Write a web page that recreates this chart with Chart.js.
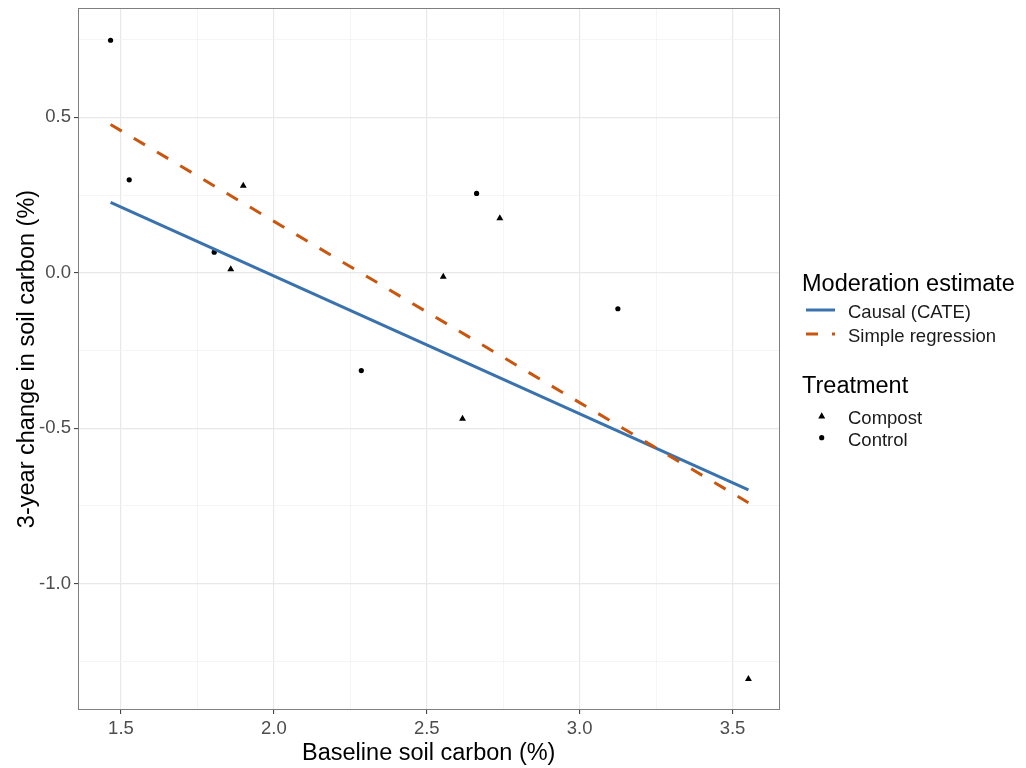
<!DOCTYPE html>
<html>
<head>
<meta charset="utf-8">
<script src="https://cdn.jsdelivr.net/npm/chart.js@4.4.1/dist/chart.umd.min.js"></script>
<style>
  html, body { margin: 0; padding: 0; background: #ffffff; }
  #wrap { position: relative; width: 1026px; height: 768px; font-family: "Liberation Sans", Arial, sans-serif; }
  #c { position: absolute; left: 0; top: 0; }
  .lg { position: absolute; white-space: nowrap; color: #000; line-height: 1; }
  .lg-title { font-size: 23.5px; }
  .lg-item { font-size: 18.5px; color: #1a1a1a; }
  svg.key { position: absolute; left: 800px; top: 295px; }
</style>
</head>
<body>
<div id="wrap">
  <canvas id="c" width="1026" height="768"></canvas>
  <svg class="key" width="50" height="160" viewBox="0 0 50 160">
    <line x1="6" y1="15" x2="35" y2="15" stroke="#3A72AE" stroke-width="3"/>
    <line x1="6" y1="39" x2="35" y2="39" stroke="#C8560E" stroke-width="3" stroke-dasharray="12 14"/>
    <polygon points="21.7,117.3 18.2,123.4 25.2,123.4" fill="#000"/>
    <circle cx="21.7" cy="142.7" r="2.6" fill="#000"/>
  </svg>
  <div class="lg lg-title" style="left:802px; top:271.8px;">Moderation estimate</div>
  <div class="lg lg-item" style="left:848px; top:303.3px;">Causal (CATE)</div>
  <div class="lg lg-item" style="left:848px; top:327px;">Simple regression</div>
  <div class="lg lg-title" style="left:802px; top:374.4px;">Treatment</div>
  <div class="lg lg-item" style="left:848px; top:408.6px;">Compost</div>
  <div class="lg lg-item" style="left:848px; top:431px;">Control</div>
</div>
<script>
// ---- Data ----
const controlX = [1.466, 1.527, 1.805, 2.286, 2.663, 3.125];
const controlY = [0.748, 0.299, 0.066, -0.315, 0.255, -0.116];
const compostX = [1.900, 1.859, 2.554, 2.739, 2.617, 3.552];
const compostY = [0.280, 0.011, -0.013, 0.175, -0.470, -1.307];
const lineX = [1.466, 3.552];
const cateY = [0.226, -0.699];
const regY = [0.477, -0.740];
const xTicks = [1.25, 1.5, 1.75, 2.0, 2.25, 2.5, 2.75, 3.0, 3.25, 3.5];
const yTicks = [-1.25, -1.0, -0.75, -0.5, -0.25, 0.0, 0.25, 0.5, 0.75];
const xLabeled = [1.5, 2.0, 2.5, 3.0, 3.5];
const yLabeled = [-1.0, -0.5, 0.0, 0.5];

const pts = (xs, ys) => xs.map((x, i) => ({ x: x, y: ys[i] }));
const isMajor = (v, list) => list.some(t => Math.abs(t - v) < 1e-9);

const BLUE = '#3A72AE';
const ORANGE = '#C8560E';

const borderPlugin = {
  id: 'panelBorder',
  afterDatasetsDraw(chart) {
    const a = chart.chartArea, ctx = chart.ctx;
    ctx.save();
    ctx.strokeStyle = '#7f7f7f';
    ctx.lineWidth = 1;
    ctx.strokeRect(Math.round(a.left) + 0.5, Math.round(a.top) + 0.5,
                   Math.round(a.right - a.left) - 1, Math.round(a.bottom - a.top) - 1);
    ctx.restore();
  }
};

const gridCfg = (labeled) => ({
  color: ctx => (ctx.tick && isMajor(ctx.tick.value, labeled)) ? '#e8e8e8' : '#f2f2f2',
  lineWidth: ctx => (ctx.tick && isMajor(ctx.tick.value, labeled)) ? 1.2 : 0.8,
  drawTicks: true,
  tickLength: 4,
  tickColor: ctx => (ctx.tick && isMajor(ctx.tick.value, labeled)) ? '#333333' : 'rgba(0,0,0,0)',
  tickWidth: 1
});

const zeroPad = s => { s.paddingTop = 0; s.paddingBottom = 0; s.paddingLeft = 0; s.paddingRight = 0; };

new Chart(document.getElementById('c'), {
  type: 'scatter',
  data: {
    datasets: [
      { label: 'Control', data: pts(controlX, controlY), pointStyle: 'circle', pointRadius: 2.6,
        backgroundColor: '#000', borderColor: '#000', borderWidth: 0, order: 2 },
      { label: 'Compost', data: pts(compostX, compostY), pointStyle: 'triangle', pointRadius: 4,
        backgroundColor: '#000', borderColor: '#000', borderWidth: 0, order: 2 },
      { type: 'line', label: 'Causal (CATE)', data: pts(lineX, cateY), borderColor: BLUE,
        borderWidth: 3, pointRadius: 0, fill: false, order: 1 },
      { type: 'line', label: 'Simple regression', data: pts(lineX, regY), borderColor: ORANGE,
        borderWidth: 3, borderDash: [13, 14], pointRadius: 0, fill: false, order: 0 }
    ]
  },
  options: {
    responsive: false,
    animation: false,
    devicePixelRatio: 1,
    layout: { padding: { top: 8, right: 246.5, left: 0, bottom: 0 } },
    plugins: { legend: { display: false }, tooltip: { enabled: false } },
    scales: {
      x: {
        type: 'linear',
        min: 1.3595, max: 3.6536,
        afterBuildTicks: s => { s.ticks = xTicks.filter(v => v >= s.min && v <= s.max).map(v => ({ value: v })); },
        afterFit: s => { s.height = 58; zeroPad(s); },
        grid: gridCfg(xLabeled),
        border: { display: false },
        ticks: {
          autoSkip: false, maxRotation: 0, padding: 4,
          color: '#4d4d4d', font: { family: 'Liberation Sans', size: 18.5 },
          callback: v => isMajor(v, xLabeled) ? v.toFixed(1) : ''
        },
        title: { display: true, text: 'Baseline soil carbon (%)', color: '#000',
          font: { family: 'Liberation Sans', size: 23.5 }, padding: { top: 0, bottom: 0 } }
      },
      y: {
        type: 'linear',
        min: -1.407, max: 0.8517,
        afterBuildTicks: s => { s.ticks = yTicks.filter(v => v >= s.min && v <= s.max).map(v => ({ value: v })); },
        afterFit: s => { s.width = 78; zeroPad(s); },
        grid: gridCfg(yLabeled),
        border: { display: false },
        ticks: {
          autoSkip: false, padding: 3,
          color: '#4d4d4d', font: { family: 'Liberation Sans', size: 18.5 },
          callback: v => isMajor(v, yLabeled) ? v.toFixed(1) : ''
        },
        title: { display: true, text: '3-year change in soil carbon (%)', color: '#000',
          font: { family: 'Liberation Sans', size: 23.5 }, padding: { top: 13, bottom: 0 } }
      }
    }
  },
  plugins: [borderPlugin]
});
</script>
</body>
</html>
